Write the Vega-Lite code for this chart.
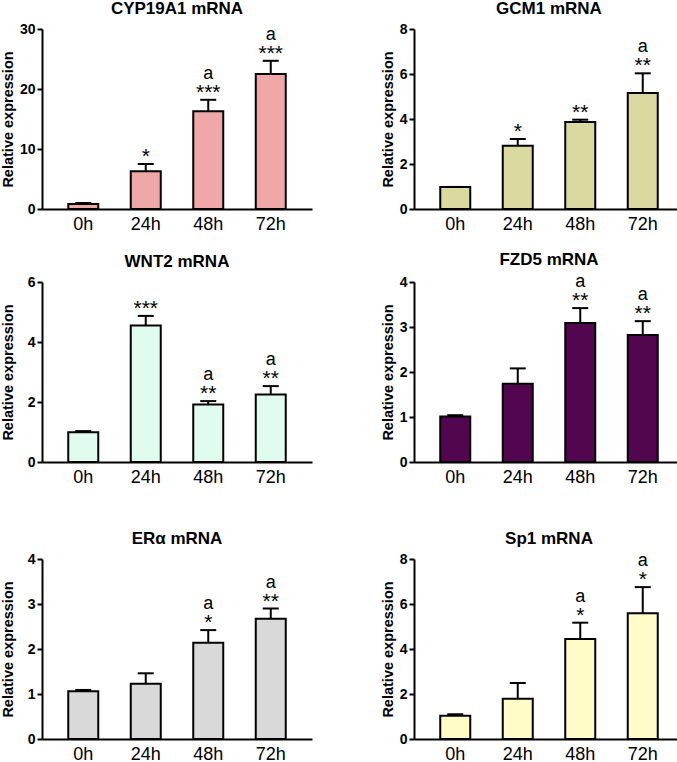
{
  "$schema": "https://vega.github.io/schema/vega-lite/v6.json",
  "padding": {"top": 0, "left": 0, "right": 3, "bottom": 0},
  "background": "white",
  "config": {
    "view": {"stroke": null},
    "font": "Liberation Sans",
    "title": {"fontSize": 17, "fontWeight": "bold", "font": "Liberation Sans", "color": "black", "offset": 0, "frame": "group", "anchor": "middle"},
    "axis": {"domainColor": "black", "domainWidth": 2, "tickColor": "black", "tickWidth": 2, "tickSize": 5, "grid": false, "labelColor": "black", "titleColor": "black", "labelFont": "Liberation Sans", "titleFont": "Liberation Sans"},
    "axisX": {"labelFontSize": 18, "labelFontWeight": "normal", "labelAngle": 0, "labelPadding": 6, "ticks": false},
    "axisY": {"labelFontSize": 14, "labelFontWeight": "bold", "titleFontSize": 14.5, "titleFontWeight": "bold", "titlePadding": 4, "labelPadding": 2}
  },
  "datasets": {
    "d": [
      {"gene": "CYP19A1", "time": "0h", "mean": 0.85, "upper": 1.0, "sig": "", "letter": ""},
      {"gene": "CYP19A1", "time": "24h", "mean": 6.3, "upper": 7.5, "sig": "*", "letter": ""},
      {"gene": "CYP19A1", "time": "48h", "mean": 16.3, "upper": 18.2, "sig": "***", "letter": "a"},
      {"gene": "CYP19A1", "time": "72h", "mean": 22.5, "upper": 24.7, "sig": "***", "letter": "a"},
      {"gene": "GCM1", "time": "0h", "mean": 0.98, "upper": 0.98, "sig": "", "letter": ""},
      {"gene": "GCM1", "time": "24h", "mean": 2.81, "upper": 3.11, "sig": "*", "letter": ""},
      {"gene": "GCM1", "time": "48h", "mean": 3.87, "upper": 3.97, "sig": "**", "letter": ""},
      {"gene": "GCM1", "time": "72h", "mean": 5.16, "upper": 6.03, "sig": "**", "letter": "a"},
      {"gene": "WNT2", "time": "0h", "mean": 0.99, "upper": 1.03, "sig": "", "letter": ""},
      {"gene": "WNT2", "time": "24h", "mean": 4.55, "upper": 4.87, "sig": "***", "letter": ""},
      {"gene": "WNT2", "time": "48h", "mean": 1.92, "upper": 2.03, "sig": "**", "letter": "a"},
      {"gene": "WNT2", "time": "72h", "mean": 2.25, "upper": 2.53, "sig": "**", "letter": "a"},
      {"gene": "FZD5", "time": "0h", "mean": 1.01, "upper": 1.04, "sig": "", "letter": ""},
      {"gene": "FZD5", "time": "24h", "mean": 1.74, "upper": 2.08, "sig": "", "letter": ""},
      {"gene": "FZD5", "time": "48h", "mean": 3.09, "upper": 3.42, "sig": "**", "letter": "a"},
      {"gene": "FZD5", "time": "72h", "mean": 2.82, "upper": 3.13, "sig": "**", "letter": "a"},
      {"gene": "ERa", "time": "0h", "mean": 1.06, "upper": 1.09, "sig": "", "letter": ""},
      {"gene": "ERa", "time": "24h", "mean": 1.23, "upper": 1.46, "sig": "", "letter": ""},
      {"gene": "ERa", "time": "48h", "mean": 2.14, "upper": 2.42, "sig": "*", "letter": "a"},
      {"gene": "ERa", "time": "72h", "mean": 2.67, "upper": 2.9, "sig": "**", "letter": "a"},
      {"gene": "Sp1", "time": "0h", "mean": 1.03, "upper": 1.1, "sig": "", "letter": ""},
      {"gene": "Sp1", "time": "24h", "mean": 1.79, "upper": 2.49, "sig": "", "letter": ""},
      {"gene": "Sp1", "time": "48h", "mean": 4.44, "upper": 5.17, "sig": "*", "letter": "a"},
      {"gene": "Sp1", "time": "72h", "mean": 5.59, "upper": 6.75, "sig": "*", "letter": "a"}
    ]
  },
  "spacing": 44,
  "vconcat": [
    {
      "spacing": 18,
      "vconcat": [
        {
          "spacing": 68,
          "hconcat": [
            {
              "title": "CYP19A1 mRNA",
              "width": 270, "height": 180,
              "data": {"name": "d"},
              "transform": [{"filter": "datum.gene === 'CYP19A1'"}],
              "encoding": {"x": {"field": "time", "type": "nominal", "sort": ["0h", "24h", "48h", "72h"], "title": null, "scale": {"paddingInner": 0.52, "paddingOuter": 0.42}}},
              "layer": [
                {"mark": {"type": "bar", "fill": "#EFA7A7", "stroke": "black", "strokeWidth": 2}, "encoding": {"y": {"field": "mean", "type": "quantitative", "title": "Relative expression", "scale": {"domain": [0, 30], "nice": false}, "axis": {"values": [0, 10, 20, 30], "title": "Relative expression", "minExtent": 23}}}},
                {"mark": {"type": "rule", "color": "black", "strokeWidth": 2}, "encoding": {"y": {"field": "mean", "type": "quantitative", "scale": {"domain": [0, 30], "nice": false}}, "y2": {"field": "upper"}}},
                {"mark": {"type": "tick", "color": "black", "thickness": 2, "size": 16, "opacity": 1}, "encoding": {"y": {"field": "upper", "type": "quantitative", "scale": {"domain": [0, 30], "nice": false}}}},
                {"transform": [{"filter": "datum.sig !== ''"}], "mark": {"type": "text", "fontSize": 21, "baseline": "alphabetic", "dy": -1, "color": "black"}, "encoding": {"y": {"field": "upper", "type": "quantitative", "scale": {"domain": [0, 30], "nice": false}}, "text": {"field": "sig"}}},
                {"transform": [{"filter": "datum.letter !== ''"}], "mark": {"type": "text", "fontSize": 18, "baseline": "alphabetic", "dy": -21, "color": "black"}, "encoding": {"y": {"field": "upper", "type": "quantitative", "scale": {"domain": [0, 30], "nice": false}}, "text": {"field": "letter"}}}
              ]
            },
            {
              "title": "GCM1 mRNA",
              "width": 270, "height": 180,
              "data": {"name": "d"},
              "transform": [{"filter": "datum.gene === 'GCM1'"}],
              "encoding": {"x": {"field": "time", "type": "nominal", "sort": ["0h", "24h", "48h", "72h"], "title": null, "scale": {"paddingInner": 0.52, "paddingOuter": 0.42}}},
              "layer": [
                {"mark": {"type": "bar", "fill": "#D9D9A0", "stroke": "black", "strokeWidth": 2}, "encoding": {"y": {"field": "mean", "type": "quantitative", "title": "Relative expression", "scale": {"domain": [0, 8], "nice": false}, "axis": {"values": [0, 2, 4, 6, 8], "title": "Relative expression"}}}},
                {"mark": {"type": "rule", "color": "black", "strokeWidth": 2}, "encoding": {"y": {"field": "mean", "type": "quantitative", "scale": {"domain": [0, 8], "nice": false}}, "y2": {"field": "upper"}}},
                {"mark": {"type": "tick", "color": "black", "thickness": 2, "size": 16, "opacity": 1}, "encoding": {"y": {"field": "upper", "type": "quantitative", "scale": {"domain": [0, 8], "nice": false}}}},
                {"transform": [{"filter": "datum.sig !== ''"}], "mark": {"type": "text", "fontSize": 21, "baseline": "alphabetic", "dy": -1, "color": "black"}, "encoding": {"y": {"field": "upper", "type": "quantitative", "scale": {"domain": [0, 8], "nice": false}}, "text": {"field": "sig"}}},
                {"transform": [{"filter": "datum.letter !== ''"}], "mark": {"type": "text", "fontSize": 18, "baseline": "alphabetic", "dy": -21, "color": "black"}, "encoding": {"y": {"field": "upper", "type": "quantitative", "scale": {"domain": [0, 8], "nice": false}}, "text": {"field": "letter"}}}
              ]
            }
          ]
        },
        {
          "spacing": 68,
          "hconcat": [
            {
              "title": "WNT2 mRNA",
              "width": 270, "height": 180,
              "data": {"name": "d"},
              "transform": [{"filter": "datum.gene === 'WNT2'"}],
              "encoding": {"x": {"field": "time", "type": "nominal", "sort": ["0h", "24h", "48h", "72h"], "title": null, "scale": {"paddingInner": 0.52, "paddingOuter": 0.42}}},
              "layer": [
                {"mark": {"type": "bar", "fill": "#DFFCEE", "stroke": "black", "strokeWidth": 2}, "encoding": {"y": {"field": "mean", "type": "quantitative", "title": "Relative expression", "scale": {"domain": [0, 6], "nice": false}, "axis": {"values": [0, 2, 4, 6], "title": "Relative expression", "minExtent": 23}}}},
                {"mark": {"type": "rule", "color": "black", "strokeWidth": 2}, "encoding": {"y": {"field": "mean", "type": "quantitative", "scale": {"domain": [0, 6], "nice": false}}, "y2": {"field": "upper"}}},
                {"mark": {"type": "tick", "color": "black", "thickness": 2, "size": 16, "opacity": 1}, "encoding": {"y": {"field": "upper", "type": "quantitative", "scale": {"domain": [0, 6], "nice": false}}}},
                {"transform": [{"filter": "datum.sig !== ''"}], "mark": {"type": "text", "fontSize": 21, "baseline": "alphabetic", "dy": -1, "color": "black"}, "encoding": {"y": {"field": "upper", "type": "quantitative", "scale": {"domain": [0, 6], "nice": false}}, "text": {"field": "sig"}}},
                {"transform": [{"filter": "datum.letter !== ''"}], "mark": {"type": "text", "fontSize": 18, "baseline": "alphabetic", "dy": -21, "color": "black"}, "encoding": {"y": {"field": "upper", "type": "quantitative", "scale": {"domain": [0, 6], "nice": false}}, "text": {"field": "letter"}}}
              ]
            },
            {
              "title": "FZD5 mRNA",
              "width": 270, "height": 180,
              "data": {"name": "d"},
              "transform": [{"filter": "datum.gene === 'FZD5'"}],
              "encoding": {"x": {"field": "time", "type": "nominal", "sort": ["0h", "24h", "48h", "72h"], "title": null, "scale": {"paddingInner": 0.52, "paddingOuter": 0.42}}},
              "layer": [
                {"mark": {"type": "bar", "fill": "#52064F", "stroke": "black", "strokeWidth": 2}, "encoding": {"y": {"field": "mean", "type": "quantitative", "title": "Relative expression", "scale": {"domain": [0, 4], "nice": false}, "axis": {"values": [0, 1, 2, 3, 4], "title": "Relative expression"}}}},
                {"mark": {"type": "rule", "color": "black", "strokeWidth": 2}, "encoding": {"y": {"field": "mean", "type": "quantitative", "scale": {"domain": [0, 4], "nice": false}}, "y2": {"field": "upper"}}},
                {"mark": {"type": "tick", "color": "black", "thickness": 2, "size": 16, "opacity": 1}, "encoding": {"y": {"field": "upper", "type": "quantitative", "scale": {"domain": [0, 4], "nice": false}}}},
                {"transform": [{"filter": "datum.sig !== ''"}], "mark": {"type": "text", "fontSize": 21, "baseline": "alphabetic", "dy": -1, "color": "black"}, "encoding": {"y": {"field": "upper", "type": "quantitative", "scale": {"domain": [0, 4], "nice": false}}, "text": {"field": "sig"}}},
                {"transform": [{"filter": "datum.letter !== ''"}], "mark": {"type": "text", "fontSize": 18, "baseline": "alphabetic", "dy": -21, "color": "black"}, "encoding": {"y": {"field": "upper", "type": "quantitative", "scale": {"domain": [0, 4], "nice": false}}, "text": {"field": "letter"}}}
              ]
            }
          ]
        }
      ]
    },
    {
      "spacing": 68,
      "hconcat": [
        {
          "title": "ERα mRNA",
          "width": 270, "height": 180,
          "data": {"name": "d"},
          "transform": [{"filter": "datum.gene === 'ERa'"}],
          "encoding": {"x": {"field": "time", "type": "nominal", "sort": ["0h", "24h", "48h", "72h"], "title": null, "scale": {"paddingInner": 0.52, "paddingOuter": 0.42}}},
          "layer": [
            {"mark": {"type": "bar", "fill": "#D9D9D9", "stroke": "black", "strokeWidth": 2}, "encoding": {"y": {"field": "mean", "type": "quantitative", "title": "Relative expression", "scale": {"domain": [0, 4], "nice": false}, "axis": {"values": [0, 1, 2, 3, 4], "title": "Relative expression", "minExtent": 23}}}},
            {"mark": {"type": "rule", "color": "black", "strokeWidth": 2}, "encoding": {"y": {"field": "mean", "type": "quantitative", "scale": {"domain": [0, 4], "nice": false}}, "y2": {"field": "upper"}}},
            {"mark": {"type": "tick", "color": "black", "thickness": 2, "size": 16, "opacity": 1}, "encoding": {"y": {"field": "upper", "type": "quantitative", "scale": {"domain": [0, 4], "nice": false}}}},
            {"transform": [{"filter": "datum.sig !== ''"}], "mark": {"type": "text", "fontSize": 21, "baseline": "alphabetic", "dy": -1, "color": "black"}, "encoding": {"y": {"field": "upper", "type": "quantitative", "scale": {"domain": [0, 4], "nice": false}}, "text": {"field": "sig"}}},
            {"transform": [{"filter": "datum.letter !== ''"}], "mark": {"type": "text", "fontSize": 18, "baseline": "alphabetic", "dy": -21, "color": "black"}, "encoding": {"y": {"field": "upper", "type": "quantitative", "scale": {"domain": [0, 4], "nice": false}}, "text": {"field": "letter"}}}
          ]
        },
        {
          "title": "Sp1 mRNA",
          "width": 270, "height": 180,
          "data": {"name": "d"},
          "transform": [{"filter": "datum.gene === 'Sp1'"}],
          "encoding": {"x": {"field": "time", "type": "nominal", "sort": ["0h", "24h", "48h", "72h"], "title": null, "scale": {"paddingInner": 0.52, "paddingOuter": 0.42}}},
          "layer": [
            {"mark": {"type": "bar", "fill": "#FFFCC8", "stroke": "black", "strokeWidth": 2}, "encoding": {"y": {"field": "mean", "type": "quantitative", "title": "Relative expression", "scale": {"domain": [0, 8], "nice": false}, "axis": {"values": [0, 2, 4, 6, 8], "title": "Relative expression"}}}},
            {"mark": {"type": "rule", "color": "black", "strokeWidth": 2}, "encoding": {"y": {"field": "mean", "type": "quantitative", "scale": {"domain": [0, 8], "nice": false}}, "y2": {"field": "upper"}}},
            {"mark": {"type": "tick", "color": "black", "thickness": 2, "size": 16, "opacity": 1}, "encoding": {"y": {"field": "upper", "type": "quantitative", "scale": {"domain": [0, 8], "nice": false}}}},
            {"transform": [{"filter": "datum.sig !== ''"}], "mark": {"type": "text", "fontSize": 21, "baseline": "alphabetic", "dy": -1, "color": "black"}, "encoding": {"y": {"field": "upper", "type": "quantitative", "scale": {"domain": [0, 8], "nice": false}}, "text": {"field": "sig"}}},
            {"transform": [{"filter": "datum.letter !== ''"}], "mark": {"type": "text", "fontSize": 18, "baseline": "alphabetic", "dy": -21, "color": "black"}, "encoding": {"y": {"field": "upper", "type": "quantitative", "scale": {"domain": [0, 8], "nice": false}}, "text": {"field": "letter"}}}
          ]
        }
      ]
    }
  ]
}
